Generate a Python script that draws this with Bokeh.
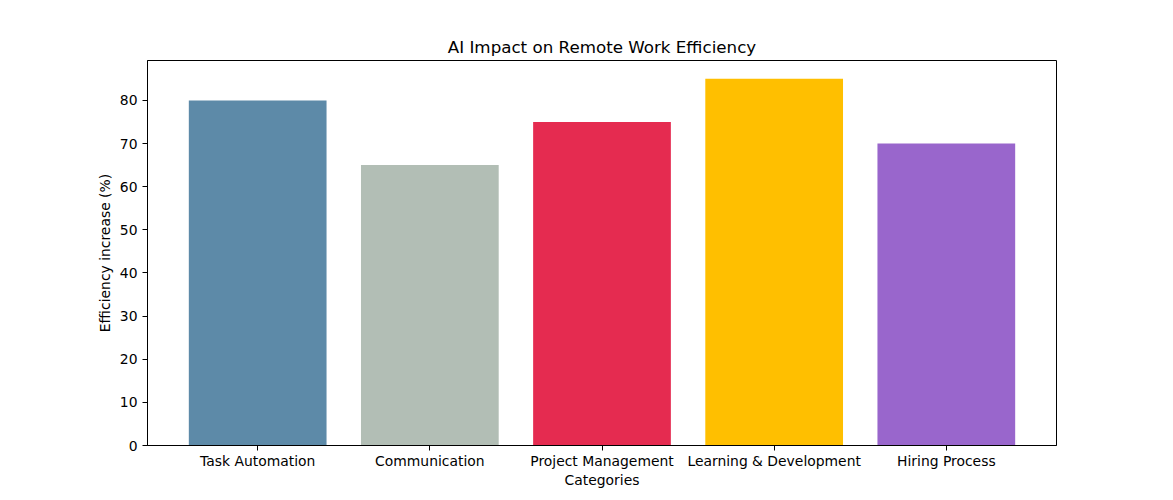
from bokeh.plotting import figure
from bokeh.models import ColumnDataSource, FixedTicker, Range1d
from bokeh.embed import file_html
from bokeh.resources import INLINE

categories = ["Task Automation", "Communication", "Project Management",
              "Learning & Development", "Hiring Process"]
values = [80, 65, 75, 85, 70]
colors = ["#5D8AA8", "#B2BEB5", "#E52B50", "#FFBF00", "#9966CC"]
y_ticks = [0, 10, 20, 30, 40, 50, 60, 70, 80]

x = list(range(len(categories)))
src = ColumnDataSource(dict(x=x, top=values, color=colors))

FONT = "DejaVu Sans"

p = figure(width=1157, height=484, output_backend="svg", toolbar_location=None,
           x_range=Range1d(-0.64, len(categories) - 1 + 0.64),
           y_range=Range1d(0, max(values) * 1.05),
           title="AI Impact on Remote Work Efficiency")
p.frame_width = 909
p.frame_height = 385
p.min_border_left = 147
p.min_border_top = 60
p.min_border_bottom = 10
p.min_border_right = 10

p.vbar(x="x", top="top", width=0.8, fill_color="color", line_color=None, source=src)

p.title.align = "center"
p.title.text_font = FONT
p.title.text_font_size = "16.7px"
p.title.text_font_style = "normal"
p.title.text_color = "black"
p.title.offset = 0
p.title.standoff = 8

p.xgrid.visible = False
p.ygrid.visible = False
p.outline_line_color = "black"
p.outline_line_width = 1
p.background_fill_color = "white"
p.border_fill_color = "white"

p.xaxis.ticker = FixedTicker(ticks=x)
p.xaxis.major_label_overrides = {i: c for i, c in zip(x, categories)}
p.yaxis.ticker = FixedTicker(ticks=y_ticks)

for ax in (p.xaxis[0], p.yaxis[0]):
    ax.major_label_text_font = FONT
    ax.major_label_text_font_size = "13.9px"
    ax.major_label_text_color = "black"
    ax.axis_label_text_font = FONT
    ax.axis_label_text_font_size = "13.9px"
    ax.axis_label_text_font_style = "normal"
    ax.axis_label_text_color = "black"
    ax.major_tick_in = 0
    ax.major_tick_out = 5
    ax.minor_tick_line_color = None
    ax.axis_line_color = "black"
    ax.major_tick_line_color = "black"
    ax.major_label_standoff = 5

p.xaxis.major_label_standoff = 2
p.xaxis.axis_label = "Categories"
p.yaxis.axis_label = "Efficiency increase (%)"
p.xaxis.axis_label_standoff = 0
p.yaxis.axis_label_standoff = 4

open("out.html", "w").write(file_html(p, INLINE))
